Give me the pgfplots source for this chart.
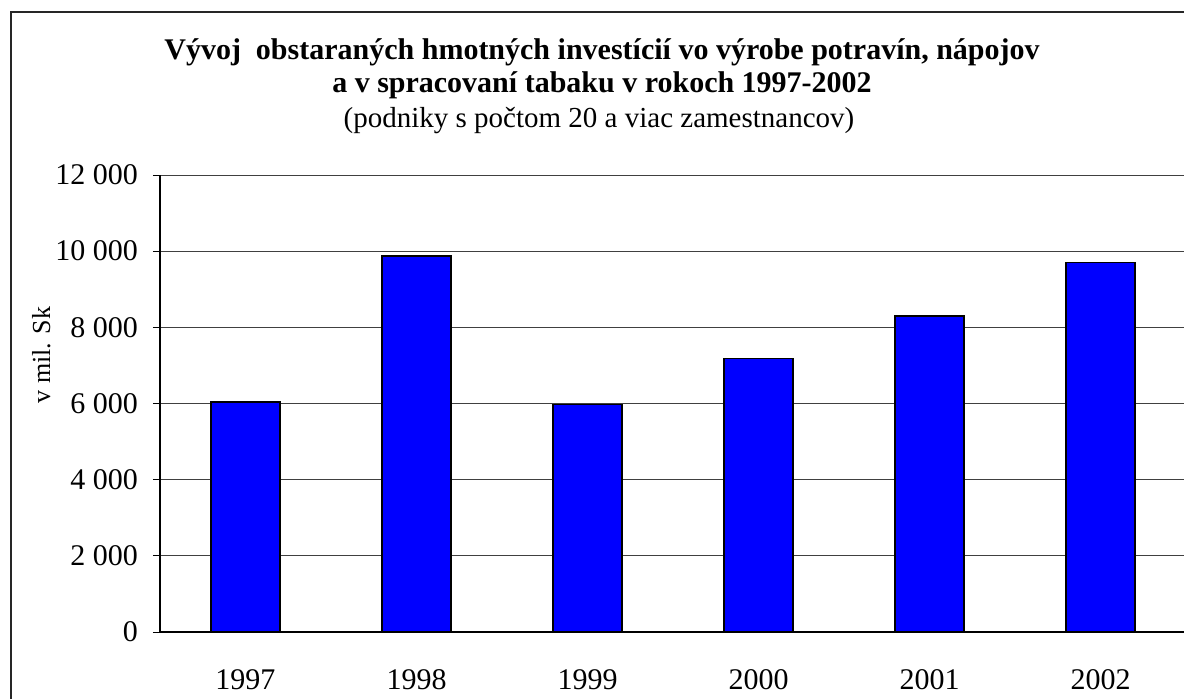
\documentclass[border=0pt]{standalone}
\usepackage{pgfplots}
\pgfplotsset{compat=1.18}
\usepackage{fontspec}
\setmainfont{Liberation Serif}
\definecolor{barblue}{RGB}{0,0,255}
\begin{document}
\begin{tikzpicture}
\path[use as bounding box] (0,0) rectangle (592pt,349pt);
\begin{scope}
\clip (0,0) rectangle (592pt,349pt);
\draw[line width=0.7pt, black!85] (5.5pt,-5pt) -- (5.5pt,343pt) -- (600pt,343pt);
\begin{axis}[
  at={(80pt,33pt)}, anchor=south west,
  scale only axis, width=513pt, height=228.5pt,
  xmin=-0.5, xmax=5.5, ymin=0, ymax=12000,
  axis x line*=bottom, axis y line*=left,
  axis line style={-, black, line width=0.6pt},
  xtick={0,1,2,3,4,5},
  xticklabels={1997,1998,1999,2000,2001,2002},
  x tick style={draw=none},
  extra x ticks={-0.5,0.5,1.5,2.5,3.5,4.5,5.5},
  extra x tick labels={},
  extra x tick style={major tick length=4.5pt, tick align=outside, tick style={draw=black, line width=0.5pt}, grid=none},
  ytick={0,2000,4000,6000,8000,10000,12000},
  yticklabels={0,2 000,4 000,6 000,8 000,10 000,12 000},
  scaled y ticks=false,
  y tick style={black, line width=0.5pt},
  major tick length=3.5pt, tick align=outside,
  ymajorgrids, grid style={black!75, line width=0.5pt},
  tick label style={font=\fontsize{15}{18}\selectfont},
  xticklabel style={anchor=base, yshift=-25pt},
  yticklabel style={xshift=-4pt},
  ylabel={v mil. Sk},
  ylabel style={font=\fontsize{13}{16}\selectfont, at={(axis description cs:-0.1072,0.606)}, anchor=base},
  ybar, bar width=34.5pt,
  clip=false,
]
\addplot[fill=barblue, draw=black, line width=0.8pt] coordinates {
  (0,6040) (1,9880) (2,5970) (3,7180) (4,8300) (5,9700)
};
\end{axis}
\node[font=\fontsize{15}{18}\selectfont\bfseries, anchor=base] at (301pt,319pt) {Vývoj\ \ obstaraných hmotných investícií vo výrobe potravín, nápojov};
\node[font=\fontsize{15}{18}\selectfont\bfseries, anchor=base] at (301pt,302.5pt) {a v spracovaní tabaku v rokoch 1997-2002};
\node[font=\fontsize{14.5}{17}\selectfont, anchor=base] at (299.5pt,285.5pt) {(podniky s počtom 20 a viac zamestnancov)};
\end{scope}
\end{tikzpicture}
\end{document}
